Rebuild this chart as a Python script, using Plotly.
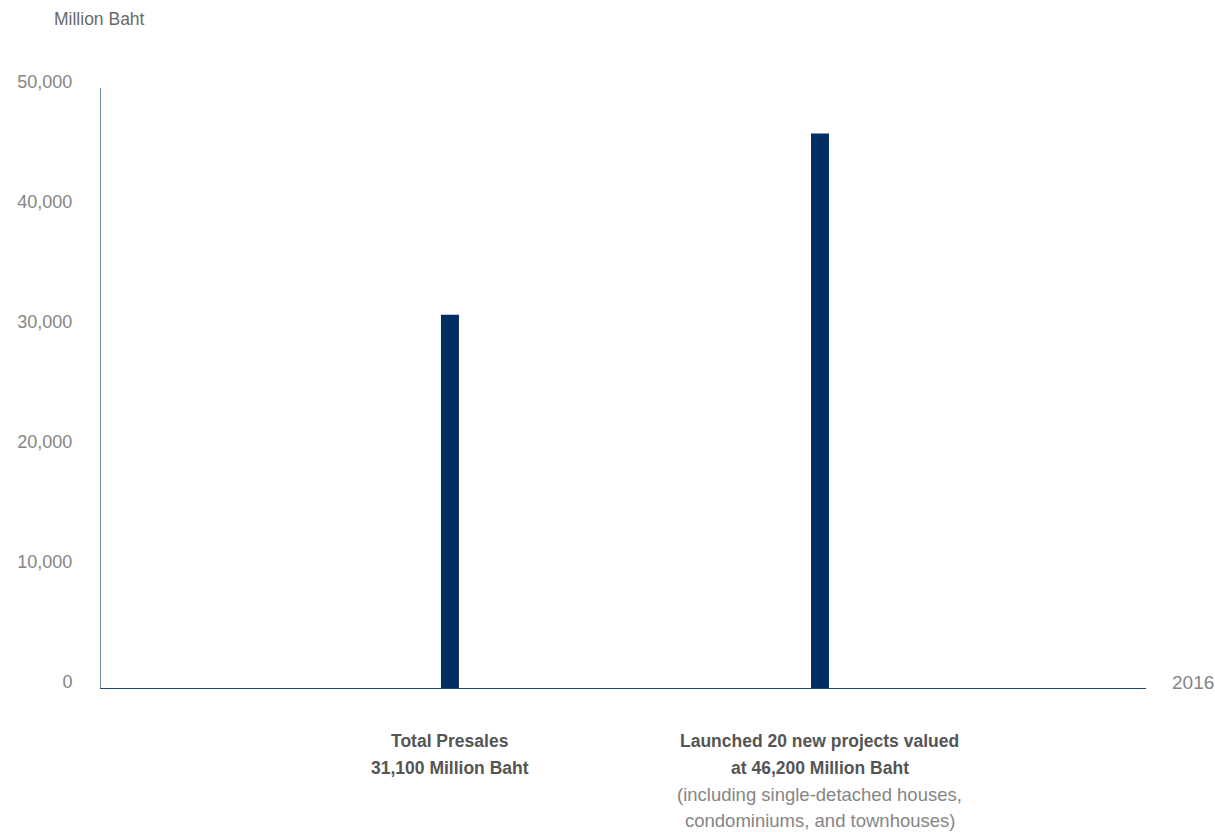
import plotly.graph_objects as go

# Presales and new project launches, 2016 (Million Baht)
categories = ["Total Presales", "New Projects Launched"]
values = [31100, 46200]
headline_lines = [
    ["Total Presales", "31,100 Million Baht"],
    ["Launched 20 new projects valued", "at 46,200 Million Baht"],
]
note_lines = [
    [],
    ["(including single-detached houses,", "condominiums, and townhouses)"],
]
y_ticks = [0, 10000, 20000, 30000, 40000, 50000]
y_tick_labels = ["0", "10,000", "20,000", "30,000", "40,000", "50,000"]
year_label = "2016"
unit_label = "Million Baht"

FONT = "Liberation Sans, Arial, sans-serif"
BAR = "#002d62"
GREY = "#858585"
DARK = "#555555"

fig = go.Figure(
    go.Bar(
        x=categories,
        y=values,
        width=0.0486,
        marker=dict(color=BAR, line=dict(width=0)),
        hoverinfo="skip",
    )
)

fig.update_layout(
    width=1215,
    height=832,
    margin=dict(l=101, r=69, t=88, b=144),
    paper_bgcolor="white",
    plot_bgcolor="white",
    showlegend=False,
    font=dict(family=FONT, color=GREY, size=18),
)

fig.update_xaxes(
    type="category",
    range=[-0.943, 1.881],
    showticklabels=False,
    ticks="",
    showgrid=False,
    zeroline=False,
    showline=True,
    linecolor="#1d4a7c",
    linewidth=1.2,
)

fig.update_yaxes(
    range=[0, 50000],
    tickvals=y_ticks,
    ticktext=y_tick_labels,
    tickfont=dict(family=FONT, size=18, color=GREY),
    ticks="",
    ticklabelstandoff=24,
    ticklabelshift=-6,
    showgrid=False,
    zeroline=False,
    showline=True,
    linecolor="#6d8bb0",
    linewidth=1,
)

annotations = [
    dict(
        text=unit_label, xref="paper", yref="paper",
        x=-0.001, y=1.0, yshift=69, xanchor="center", yanchor="middle",
        showarrow=False, font=dict(family=FONT, size=17.5, color="#6a6a6a"),
    ),
    dict(
        text=year_label, xref="paper", yref="y",
        x=1.0, y=0, xshift=24, yshift=6, xanchor="left", yanchor="middle",
        showarrow=False, font=dict(family=FONT, size=19, color=GREY),
    ),
]

LINE_STEP = 26.5
for cat, heads, notes in zip(categories, headline_lines, note_lines):
    for i, line in enumerate(heads + notes):
        is_head = i < len(heads)
        annotations.append(
            dict(
                text=f"<b>{line}</b>" if is_head else line,
                xref="x", yref="paper",
                x=cat, y=0, yshift=-53 - i * LINE_STEP,
                xanchor="center", yanchor="middle", showarrow=False,
                font=dict(family=FONT, size=17.5 if is_head else 18.5,
                          color=DARK if is_head else GREY),
            )
        )

fig.update_layout(annotations=annotations)

fig.write_html("out.html")
